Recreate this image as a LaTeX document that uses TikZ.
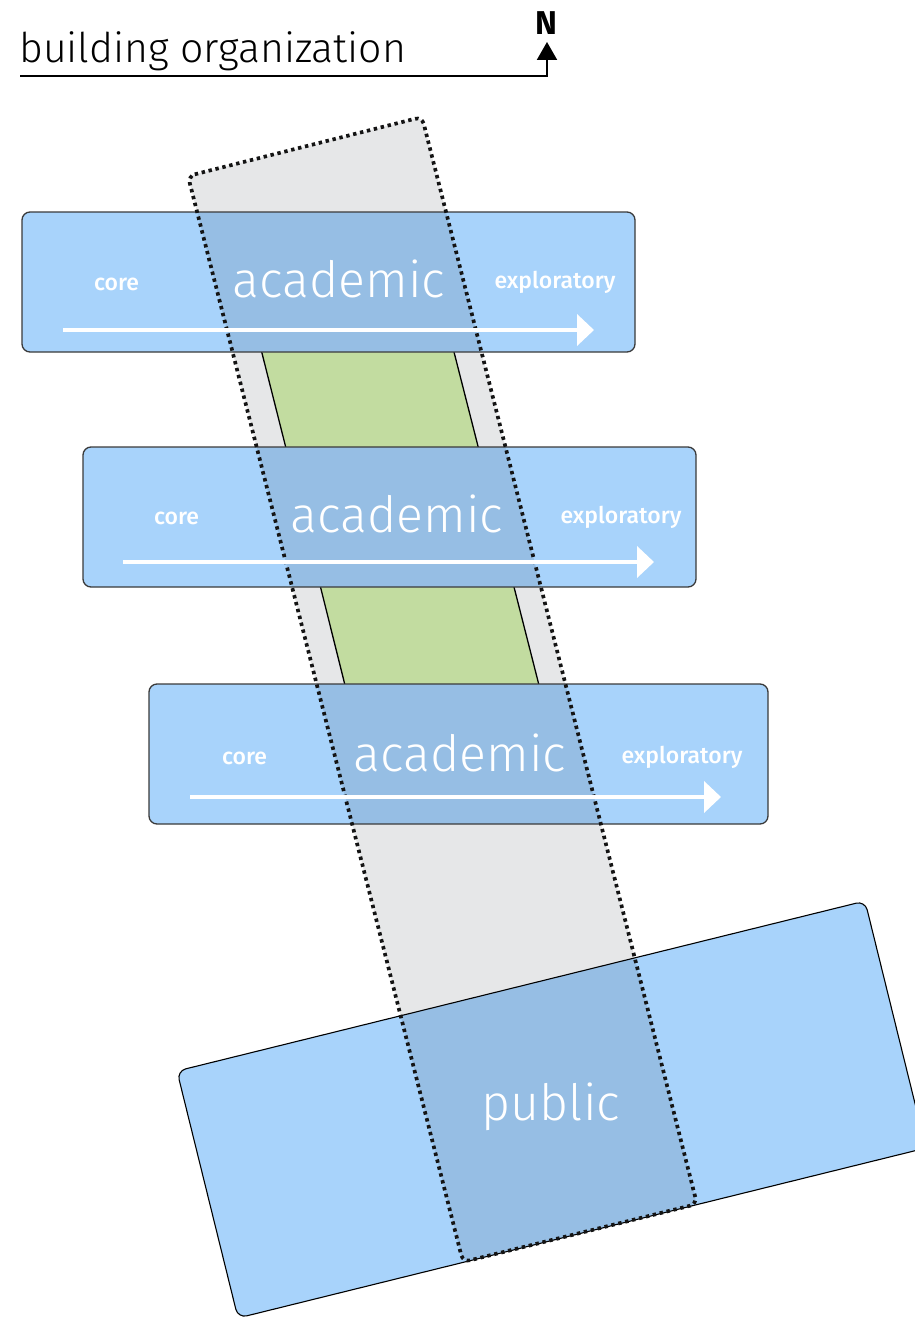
\documentclass[tikz,border=0pt]{standalone}
\usepackage{fontspec}
\newfontfamily\lightfont{Fira Sans Light}
\newfontfamily\medfont{Fira Sans Medium}
\newfontfamily\boldfont{Fira Sans Bold}
\usetikzlibrary{arrows.meta}
\definecolor{barblue}{HTML}{A8D3FB}
\definecolor{overblue}{HTML}{96BEE4}
\definecolor{bandgray}{HTML}{E6E7E8}
\definecolor{bandgreen}{HTML}{C2DCA0}
\definecolor{edgegray}{HTML}{3A3A3A}
\begin{document}
\begin{tikzpicture}[x=1pt,y=-1pt,
  barfill/.style={fill=barblue},
  baredge/.style={draw=edgegray,line width=1.3pt,rounded corners=8pt},
  pubedge/.style={draw=black,line width=1.1pt,rounded corners=9pt},
  greenband/.style={fill=bandgreen},
  greenedge/.style={draw=black,line width=1.3pt},
  dotted outline/.style={draw=black!92,line width=3.7pt,dash pattern=on 3.4pt off 3.7pt,rounded corners=7pt},
  flowarrow/.style={draw=white,line width=4.5pt,-{Triangle[length=17pt,width=31pt]}},
  smalllabel/.style={text=white,font=\medfont\fontsize{23}{23}\selectfont,anchor=base,inner sep=0pt},
  biglabel/.style={text=white,font=\lightfont\fontsize{50}{50}\selectfont,anchor=base,inner sep=0pt}]
\useasboundingbox (0,0) rectangle (915,1319);

% gray band corners
\coordinate (gTL) at (188,176);
\coordinate (gTR) at (422,117);
\coordinate (gBR) at (697,1204);
\coordinate (gBL) at (463,1262);
% public block corners
\coordinate (pTL) at (177,1071);
\coordinate (pTR) at (865,901);
\coordinate (pBR) at (926,1148);
\coordinate (pBL) at (238,1318);

\def\grayband{(gTL) -- (gTR) -- (gBR) -- (gBL) -- cycle}
\def\publicblock{(pTL) -- (pTR) -- (pBR) -- (pBL) -- cycle}

% gray band
\fill[bandgray,rounded corners=7pt] \grayband;

% green bands
\fill[greenband] (261.7,352) -- (454,352) -- (478.2,447) -- (285.7,447) -- cycle;
\fill[greenband] (320.5,587) -- (514,587) -- (538.7,684) -- (344.7,684) -- cycle;
\draw[greenedge] (261.7,352) -- (285.7,447);
\draw[greenedge] (454,352) -- (478.2,447);
\draw[greenedge] (320.5,587) -- (344.7,684);
\draw[greenedge] (514,587) -- (538.7,684);

% blocks fill
\fill[barblue,rounded corners=9pt] \publicblock;
\fill[barblue,rounded corners=8pt] (22,212) rectangle (635,352);
\fill[barblue,rounded corners=8pt] (83,447) rectangle (696,587);
\fill[barblue,rounded corners=8pt] (149,684) rectangle (768,824);

% overlaps
\begin{scope}
  \clip[rounded corners=7pt] \grayband;
  \fill[overblue,rounded corners=9pt] \publicblock;
  \fill[overblue] (22,212) rectangle (635,352);
  \fill[overblue] (83,447) rectangle (696,587);
  \fill[overblue] (149,684) rectangle (768,824);
\end{scope}

% outlines
\path[pubedge] \publicblock;
\path[baredge] (22,212) rectangle (635,352);
\path[baredge] (83,447) rectangle (696,587);
\path[baredge] (149,684) rectangle (768,824);

\path[dotted outline] \grayband;

% arrows
\coordinate (a1s) at (63,330);  \coordinate (a1e) at (594,330);
\coordinate (a2s) at (123,562); \coordinate (a2e) at (654,562);
\coordinate (a3s) at (190,797); \coordinate (a3e) at (721,797);
\draw[flowarrow] (a1s) -- (a1e);
\draw[flowarrow] (a2s) -- (a2e);
\draw[flowarrow] (a3s) -- (a3e);

% labels
\node[smalllabel] (core1) at (116.5,290) {core};
\node[biglabel]   (acad1) at (339,297) {academic};
\node[smalllabel] (expl1) at (555,288) {exploratory};

\node[smalllabel] (core2) at (176.5,524) {core};
\node[biglabel]   (acad2) at (397,532) {academic};
\node[smalllabel] (expl2) at (621,523) {exploratory};

\node[smalllabel] (core3) at (244.5,764) {core};
\node[biglabel]   (acad3) at (460,771) {academic};
\node[smalllabel] (expl3) at (682,763) {exploratory};

\node[biglabel] (pub) at (551,1120) {public};

% title and north arrow
\node[anchor=base west,inner sep=0pt,font=\lightfont\fontsize{41}{41}\selectfont] (title) at (19,63) {building organization};
\node[inner sep=0pt,font=\boldfont\fontsize{33}{33}\selectfont] (north) at (546,23) {N};
\coordinate (uStart) at (20,76);
\coordinate (uCorner) at (547,76);
\coordinate (uTip) at (547,42);
\draw[line width=2pt,-{Triangle[length=18pt,width=20pt]}] (uStart) -- (uCorner) -- (uTip);
\end{tikzpicture}
\end{document}
